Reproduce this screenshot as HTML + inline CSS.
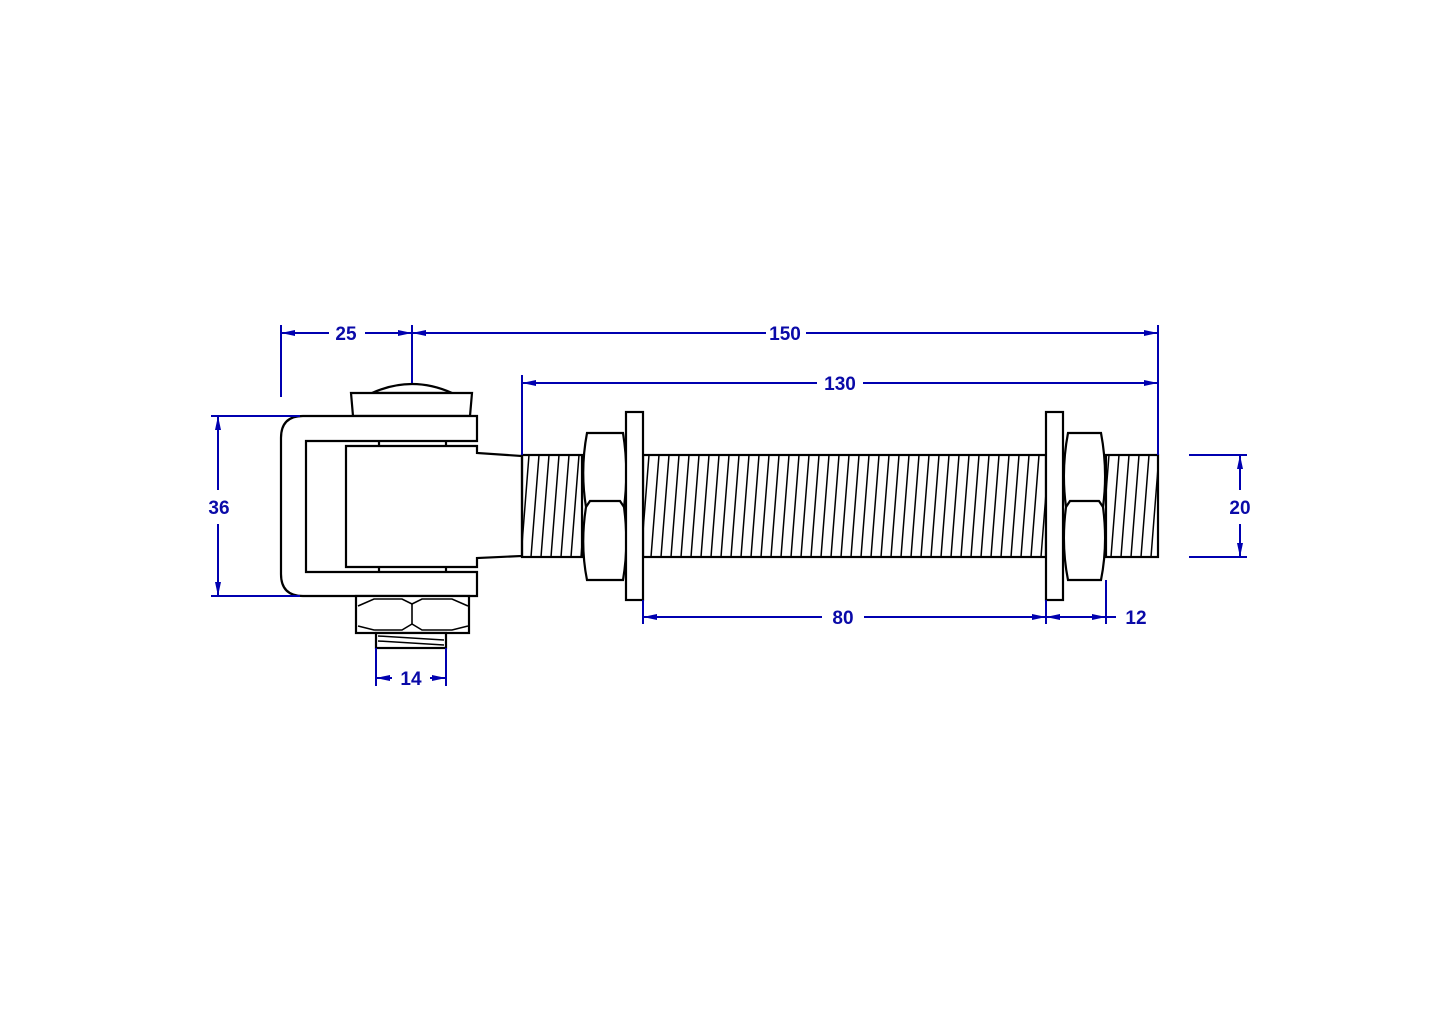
<!DOCTYPE html>
<html><head><meta charset="utf-8"><style>html,body{margin:0;padding:0;background:#fff}svg{display:block}</style></head>
<body>
<svg width="1452" height="1013" viewBox="0 0 1452 1013" xmlns="http://www.w3.org/2000/svg">
<defs>
<pattern id="th" patternUnits="userSpaceOnUse" x="0" y="455" width="10" height="102">
<line x1="9" y1="0" x2="1" y2="102" stroke="#000" stroke-width="1.5"/>
<line x1="19" y1="0" x2="11" y2="102" stroke="#000" stroke-width="1.5"/>
</pattern>
<marker id="a" viewBox="0 0 14 8" refX="14" refY="4" markerWidth="14" markerHeight="8" markerUnits="userSpaceOnUse" orient="auto-start-reverse"><path d="M0,1 L14,4 L0,7 Z" fill="#0000b0"/></marker>
</defs>
<g fill="#fff" stroke="#000" stroke-width="2.2">
<path d="M372,393 Q412,375 452,393 Z"/>
<path d="M351,393 L472,393 L470,416 L353,416 Z"/>
<path d="M477,416 L303,416 Q281,416 281,438 L281,574 Q281,596 303,596 L477,596 L477,572 L306,572 L306,441 L477,441 Z"/>
<line x1="379" y1="441" x2="379" y2="446"/><line x1="446" y1="441" x2="446" y2="446"/>
<line x1="379" y1="567" x2="379" y2="572"/><line x1="446" y1="567" x2="446" y2="572"/>
<path d="M346,446 L477,446 L477,453 L522,456 L522,556 L477,558 L477,567 L346,567 Z"/>
<rect x="522" y="455" width="60" height="102" fill="url(#th)"/>
<rect x="643" y="455" width="403" height="102" fill="url(#th)"/>
<rect x="1106" y="455" width="52" height="102" fill="url(#th)"/>
<path d="M587,433 L623,433 Q629,470 624,507 Q629,545 623,580 L587,580 Q580,545 586,507 Q580,470 587,433 Z"/>
<path d="M586,507 L590,501 L620,501 L624,507" fill="none"/>
<rect x="626" y="412" width="17" height="188"/>
<rect x="1046" y="412" width="17" height="188"/>
<path d="M1068,433 L1101,433 Q1108,470 1103,507 Q1108,545 1101,580 L1068,580 Q1061,545 1066,507 Q1061,470 1068,433 Z"/>
<path d="M1066,507 L1070,501 L1099,501 L1103,507" fill="none"/>
<rect x="356" y="596" width="113" height="37"/>
<path d="M358,606 L374,599 L402,599 L412,604 L422,599 L452,599 L468,606" fill="none" stroke-width="1.6"/>
<path d="M358,626 L374,630 L402,630 L412,624 L422,630 L452,630 L468,626" fill="none" stroke-width="1.6"/>
<line x1="412" y1="604" x2="412" y2="624" stroke-width="1.6"/>
<rect x="376" y="633" width="70" height="15"/>
<line x1="378" y1="636" x2="444" y2="640" stroke-width="1.5"/>
<line x1="378" y1="641" x2="444" y2="645" stroke-width="1.5"/>
</g>
<g stroke="#0000b0" stroke-width="2" fill="none">
<line x1="281" y1="325" x2="281" y2="397"/>
<line x1="412" y1="325" x2="412" y2="383"/>
<line x1="1158" y1="325" x2="1158" y2="455"/>
<line x1="522" y1="375" x2="522" y2="455"/>
<line x1="211" y1="416" x2="300" y2="416"/>
<line x1="211" y1="596" x2="300" y2="596"/>
<line x1="1189" y1="455" x2="1247" y2="455"/>
<line x1="1189" y1="557" x2="1247" y2="557"/>
<line x1="643" y1="600" x2="643" y2="624"/>
<line x1="1046" y1="600" x2="1046" y2="624"/>
<line x1="1106" y1="580" x2="1106" y2="624"/>
<line x1="376" y1="648" x2="376" y2="686"/>
<line x1="446" y1="648" x2="446" y2="686"/>
<line x1="281" y1="333" x2="329" y2="333" marker-start="url(#a)"/>
<line x1="365" y1="333" x2="412" y2="333" marker-end="url(#a)"/>
<line x1="412" y1="333" x2="766" y2="333" marker-start="url(#a)"/>
<line x1="806" y1="333" x2="1158" y2="333" marker-end="url(#a)"/>
<line x1="522" y1="383" x2="817" y2="383" marker-start="url(#a)"/>
<line x1="863" y1="383" x2="1158" y2="383" marker-end="url(#a)"/>
<line x1="218" y1="416" x2="218" y2="490" marker-start="url(#a)"/>
<line x1="218" y1="524" x2="218" y2="596" marker-end="url(#a)"/>
<line x1="1240" y1="455" x2="1240" y2="490" marker-start="url(#a)"/>
<line x1="1240" y1="524" x2="1240" y2="557" marker-end="url(#a)"/>
<line x1="643" y1="617" x2="822" y2="617" marker-start="url(#a)"/>
<line x1="864" y1="617" x2="1046" y2="617" marker-end="url(#a)"/>
<line x1="1046" y1="617" x2="1106" y2="617" marker-start="url(#a)" marker-end="url(#a)"/>
<line x1="1106" y1="617" x2="1116" y2="617"/>
<line x1="376" y1="678" x2="392" y2="678" marker-start="url(#a)"/>
<line x1="430" y1="678" x2="446" y2="678" marker-end="url(#a)"/>
</g>
<g fill="#0a0aa8" font-family="Liberation Sans, sans-serif" font-size="19" font-weight="bold" text-anchor="middle">
<text x="346" y="340">25</text>
<text x="785" y="340">150</text>
<text x="840" y="390">130</text>
<text x="219" y="514">36</text>
<text x="1240" y="514">20</text>
<text x="843" y="624">80</text>
<text x="1136" y="624">12</text>
<text x="411" y="685">14</text>
</g>
</svg>
</body></html>
